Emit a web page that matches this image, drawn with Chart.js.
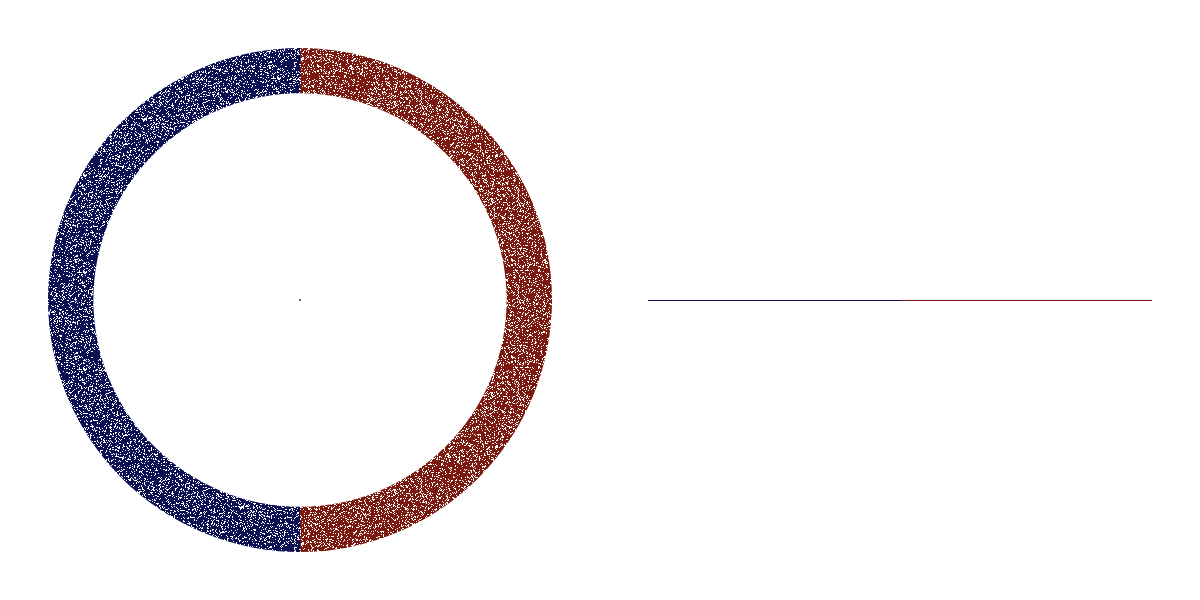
<!DOCTYPE html>
<html>
<head>
<meta charset="utf-8">
<script src="https://cdn.jsdelivr.net/npm/chart.js@4/dist/chart.umd.min.js"></script>
<style>
html,body{margin:0;padding:0;background:#fff;}
#wrap{position:relative;width:1200px;height:600px;}
.box{position:absolute;top:0;width:600px;height:600px;}
</style>
</head>
<body>
<div id="wrap">
  <div class="box" style="left:0"><canvas id="ring"></canvas></div>
  <div class="box" style="left:0"><canvas id="center"></canvas></div>
  <div class="box" style="left:600px"><canvas id="proj"></canvas></div>
</div>
<script>
// data
const ringLabels = ['x ≥ 0', 'x < 0'];
const ringShares = [50, 50];
const centerPoint = [{x: 0, y: 0}];
const projLeft = [{x: -1, y: 0}, {x: 0, y: 0}];
const projRight = [{x: 0, y: 0}, {x: 1, y: 0}];

const BLUE = '#0b1052';
const RED = '#7c190e';

function speckle(color, seed) {
  const size = 97;
  const c = document.createElement('canvas');
  c.width = size; c.height = size;
  const g = c.getContext('2d');
  g.fillStyle = color;
  g.fillRect(0, 0, size, size);
  g.fillStyle = '#ffffff';
  for (let y = 0; y < size; y++) {
    for (let x = 0; x < size; x++) {
      let h = (x * 374761393 + y * 668265263 + seed * 2246822519) >>> 0;
      h = ((h ^ (h >>> 13)) * 1274126177) >>> 0;
      h = (h ^ (h >>> 16)) >>> 0;
      if ((h % 100) < 21) g.fillRect(x, y, 1, 1);
    }
  }
  return g.createPattern(c, 'repeat');
}

new Chart(document.getElementById('ring'), {
  type: 'doughnut',
  data: {
    labels: ringLabels,
    datasets: [{
      data: ringShares,
      backgroundColor: [speckle(RED, 3), speckle(BLUE, 7)],
      borderWidth: 0
    }]
  },
  options: {
    responsive: true, maintainAspectRatio: false, animation: false,
    cutout: '82%',
    layout: {padding: 48},
    plugins: {legend: {display: false}, tooltip: {enabled: false}}
  }
});

new Chart(document.getElementById('center'), {
  type: 'scatter',
  data: {datasets: [{data: centerPoint, backgroundColor: RED, borderWidth: 0, pointRadius: 1}]},
  options: {
    responsive: true, maintainAspectRatio: false, animation: false,
    layout: {padding: 48},
    scales: {
      x: {display: false, min: -1, max: 1},
      y: {display: false, min: -1, max: 1}
    },
    plugins: {legend: {display: false}, tooltip: {enabled: false}}
  }
});

new Chart(document.getElementById('proj'), {
  type: 'line',
  data: {
    datasets: [
      {data: projLeft, borderColor: BLUE, borderWidth: 1, pointRadius: 0},
      {data: projRight, borderColor: RED, borderWidth: 1, pointRadius: 0}
    ]
  },
  options: {
    responsive: true, maintainAspectRatio: false, animation: false,
    layout: {padding: {left: 48, right: 48, top: 48.5, bottom: 47.5}},
    scales: {
      x: {type: 'linear', display: false, min: -1, max: 1},
      y: {display: false, min: -1, max: 1}
    },
    plugins: {legend: {display: false}, tooltip: {enabled: false}}
  }
});
</script>
</body>
</html>
